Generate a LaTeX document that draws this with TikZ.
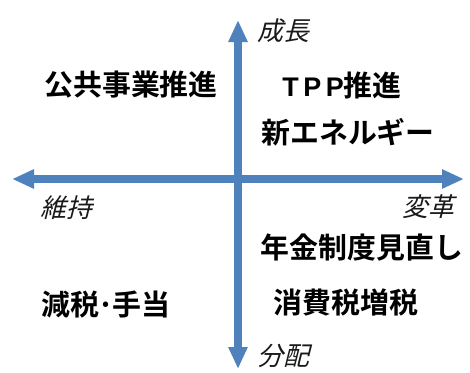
\documentclass[tikz,border=0pt]{standalone}
\usepackage{fontspec}
\usetikzlibrary{arrows.meta}
\newfontfamily\cjkbold{Noto Sans CJK JP Bold}
\newfontfamily\latbold{Liberation Sans Bold}
\newfontfamily\cjkslant{Noto Sans CJK JP}[FakeSlant=0.25]
\definecolor{axisblue}{RGB}{79,129,189}
\tikzset{
  axis/.style={draw=axisblue, line width=8bp,
    {Triangle[width=18bp,length=22bp]}-{Triangle[width=18bp,length=22bp]}},
  item/.style={font=\cjkbold\fontsize{29}{32}\selectfont, inner sep=0pt, text=black},
  pole/.style={font=\cjkslant\fontsize{26}{29}\selectfont, inner sep=0pt, text=black!90},
}
\begin{document}
\begin{tikzpicture}[x=1bp,y=-1bp]
\useasboundingbox (0,0) rectangle (470,372);
\coordinate (top) at (238,20);
\coordinate (bottom) at (238,369);
\coordinate (left) at (12,179);
\coordinate (right) at (464,179);
\draw[axis] (left) -- (right);
\draw[axis] (bottom) -- (top);
\node[pole] (grow) at (283,31) {成長};
\node[pole] (keep) at (66,208) {維持};
\node[pole] (change) at (428,207) {変革};
\node[pole] (dist) at (283,356) {分配};
\node[item] (pub) at (131,85) {公共事業推進};
\node[item] (tpp) at (342,85) {{\latbold\fontsize{27}{30}\selectfont T\,P\,P}推進};
\node[item] (energy) at (348,132) {新エネルギー};
\node[item] (pension) at (362,248) {年金制度見直し};
\node[item] (tax) at (106,304) {減税{\kern-2bp}·{\kern-2bp}手当};
\node[item] (ctax) at (346,302) {消費税増税};
\end{tikzpicture}
\end{document}
